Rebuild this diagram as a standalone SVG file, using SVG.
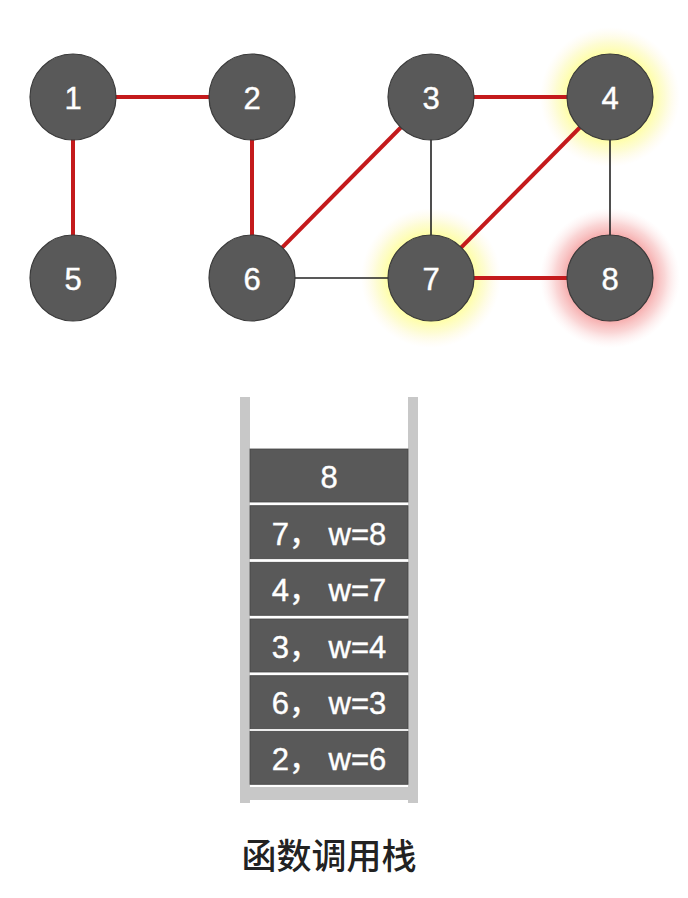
<svg xmlns="http://www.w3.org/2000/svg" width="688" height="898" viewBox="0 0 688 898">
<style>
.node circle.n{fill:#595959;stroke:#3a3a3a;stroke-width:1.2}
.node text{font-family:"Liberation Sans",Arial,sans-serif;font-size:31px;fill:#fff;stroke:#fff;stroke-width:0.4;text-anchor:middle;dominant-baseline:central}
.red{stroke:#c41a1c;stroke-width:4}
.blk{stroke:#222;stroke-width:1.6}
.box rect{fill:#595959;stroke:#444;stroke-width:0.8}
.box text{font-family:"Liberation Sans","Noto Sans CJK SC",sans-serif;font-size:31px;fill:#fff;stroke:#fff;stroke-width:0.4;text-anchor:middle;dominant-baseline:central}
.wall{fill:#c8c8c8}
</style>
<defs>
<radialGradient id="gy">
<stop offset="0.58" stop-color="#ffff9a" stop-opacity="1"/>
<stop offset="0.78" stop-color="#fdfbc0" stop-opacity="0.7"/>
<stop offset="1" stop-color="#fff6e0" stop-opacity="0"/>
</radialGradient>
<radialGradient id="gr">
<stop offset="0.58" stop-color="#f5a3a3" stop-opacity="1"/>
<stop offset="0.78" stop-color="#f8c4c4" stop-opacity="0.7"/>
<stop offset="1" stop-color="#fde6e6" stop-opacity="0"/>
</radialGradient>
</defs>
<rect width="688" height="898" fill="#fff"/>
<g id="glows">
<circle cx="610" cy="97" r="70" fill="url(#gy)"/>
<circle cx="431" cy="278" r="70" fill="url(#gy)"/>
<circle cx="610" cy="278" r="70" fill="url(#gr)"/>
</g>
<g id="connectors">
<line class="red" x1="73" y1="97" x2="252" y2="97"/>
<line class="red" x1="73" y1="97" x2="73" y2="278"/>
<line class="red" x1="252" y1="97" x2="252" y2="278"/>
<line class="red" x1="252" y1="278" x2="431" y2="97"/>
<line class="red" x1="431" y1="97" x2="610" y2="97"/>
<line class="red" x1="610" y1="97" x2="431" y2="278"/>
<line class="red" x1="431" y1="278" x2="610" y2="278"/>
<line class="blk" x1="431" y1="97" x2="431" y2="278"/>
<line class="blk" x1="610" y1="97" x2="610" y2="278"/>
<line class="blk" x1="252" y1="278" x2="431" y2="278"/>
</g>
<g id="node1" class="node"><circle class="n" cx="73" cy="97" r="43"/><text x="73" y="98">1</text></g>
<g id="node2" class="node"><circle class="n" cx="252" cy="97" r="43"/><text x="252" y="98">2</text></g>
<g id="node3" class="node"><circle class="n" cx="431" cy="97" r="43"/><text x="431" y="98">3</text></g>
<g id="node4" class="node"><circle class="n" cx="610" cy="97" r="43"/><text x="610" y="98">4</text></g>
<g id="node5" class="node"><circle class="n" cx="73" cy="278" r="43"/><text x="73" y="279">5</text></g>
<g id="node6" class="node"><circle class="n" cx="252" cy="278" r="43"/><text x="252" y="279">6</text></g>
<g id="node7" class="node"><circle class="n" cx="431" cy="278" r="43"/><text x="431" y="279">7</text></g>
<g id="node8" class="node"><circle class="n" cx="610" cy="278" r="43"/><text x="610" y="279">8</text></g>
<g id="stack">
<rect class="wall" x="240" y="397" width="10" height="406"/>
<rect class="wall" x="408" y="397" width="10" height="406"/>
<rect class="wall" x="250" y="787" width="158" height="13"/>
<g class="box"><rect x="250" y="449" width="158" height="53"/><text x="329" y="477">8</text></g>
<g class="box"><rect x="250" y="505.7" width="158" height="53"/><text x="329" y="534">7， w=8</text></g>
<g class="box"><rect x="250" y="562.3" width="158" height="53"/><text x="329" y="590">4， w=7</text></g>
<g class="box"><rect x="250" y="619" width="158" height="53"/><text x="329" y="647">3， w=4</text></g>
<g class="box"><rect x="250" y="675.7" width="158" height="53"/><text x="329" y="703">6， w=3</text></g>
<g class="box"><rect x="250" y="731.3" width="158" height="53"/><text x="329" y="759">2， w=6</text></g>
</g>
<text x="329" y="853" font-family="'Noto Sans CJK SC',sans-serif" font-size="35" font-weight="500" fill="#222" text-anchor="middle" dominant-baseline="central">函数调用栈</text>
</svg>
